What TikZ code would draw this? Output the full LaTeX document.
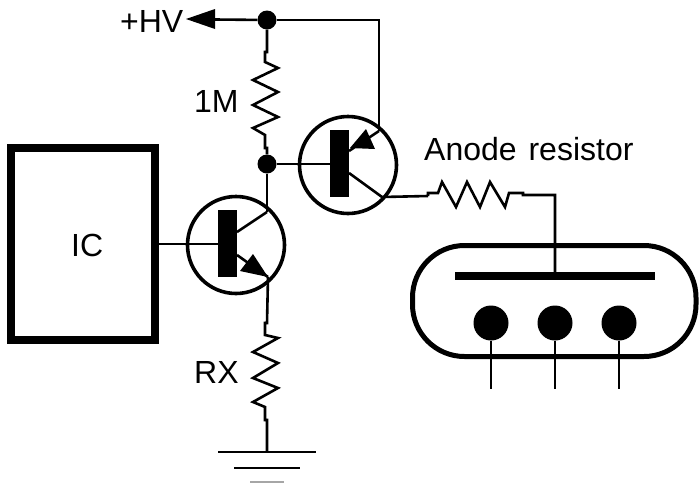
\documentclass[tikz,border=0pt]{standalone}
\usepackage{fontspec}
\setmainfont{Liberation Sans}
\tikzset{
  wire/.style={line width=2.6pt,line join=miter},
  dotn/.style={circle,fill=black,draw=none,minimum size=19pt,inner sep=0pt},
  pinn/.style={circle,fill=black,draw=none,minimum size=35pt,inner sep=0pt},
  bjt/.style={circle,draw=black,line width=3.6pt,minimum size=97pt,inner sep=0pt},
  lab/.style={anchor=base west,inner sep=0pt,font=\fontsize{32}{32}\selectfont},
  barn/.style={fill=black},
  gnd/.style={line width=2.6pt},
}
\begin{document}
\begin{tikzpicture}[x=1pt,y=-1pt]
\useasboundingbox (0,0) rectangle (699,483);
% IC
\node[draw=black,line width=8pt,minimum width=144pt,minimum height=192pt,inner sep=0pt] (ic) at (83,244) {};
\node[lab] (iclabel) at (71,256) {IC};
% transistors
\node[bjt] (t1) at (348,165) {};
\node[bjt] (t2) at (236,245) {};
\fill[barn] (330,130) rectangle (349,197);
\fill[barn] (218,210) rectangle (237,277);
\coordinate (b1) at (330,164);
\coordinate (b2) at (218,244);
% junctions
\node[dotn] (j1) at (267,20) {};
\node[dotn] (j2) at (267,164) {};
% HV
\coordinate (hvtip) at (186,19);
\coordinate (hvbase) at (215,19.5);
\fill (hvtip) -- (215,9) -- (215,29) -- cycle;
\draw[wire] (hvbase) -- (j1);
\node[lab] (hv) at (120,32) {+HV};
\draw[wire] (j1) -- (379,20) -- (379,131) coordinate (e1out);
% T1
\coordinate (e1bar) at (349,151);
\draw[wire] (e1out) -- (e1bar);
\fill (350,148) -- (366,129) -- (375,149) -- cycle;
\draw[wire] (349,173) -- (382,197) -- (428,196) coordinate (ra);
\draw[wire] (j2) -- (b1);
% 1M
\draw[wire] (j1) -- (267,52) -- (265,52) -- (265,62) -- (278,68) -- (253,80) -- (278,92) -- (253,105) -- (278,117) -- (253,128) -- (265,135) -- (265,148) -- (267,148) -- (j2);
\node[lab] (r1) at (194,112) {1M};
% T2
\draw[wire] (ic.east) ++(-3.5,0) -- (b2);
\draw[wire] (j2) -- (267,212) coordinate (c2out);
\draw[wire] (237,232) -- (c2out);
\draw[wire] (237,255) -- (268,277) coordinate (e2out);
\fill (268,277) -- (240,271) -- (253,254) -- cycle;
% RX
\draw[wire] (e2out) -- (267,323) -- (265,323) -- (265,335) -- (278,338) -- (253,352) -- (278,363) -- (253,378) -- (278,388) -- (253,402) -- (265,407) -- (265,420) -- (267,420) -- (267,452) coordinate (g);
\node[lab] (rx) at (194,383) {RX};
\draw[gnd] (218,452) -- (316,452);
\draw[gnd] (234,468) -- (300,468);
\draw[gnd,draw=black!35] (250,482) -- (284,482);
% anode resistor
\draw[wire] (ra) -- (428,193) -- (438,193) -- (442,182) -- (456,207) -- (467,182) -- (480,207) -- (490,182) -- (505,207) -- (509,193) -- (523,193) -- (523,195) -- (555,195) -- (555,272) coordinate (an);
\node[lab] (rl) at (424,160) {Anode\hspace{3pt} resistor};
% tube
\draw[line width=5pt,rounded corners=52pt] (412.5,245.5) rectangle (696,356.5);
\fill[barn] (455,272) rectangle (655,280);
\node[pinn] (p1) at (491,323) {};
\node[pinn] (p2) at (555,323) {};
\node[pinn] (p3) at (619,323) {};
\draw[wire] (p1) -- (491,389);
\draw[wire] (p2) -- (555,389);
\draw[wire] (p3) -- (619,389);
\end{tikzpicture}
\end{document}
